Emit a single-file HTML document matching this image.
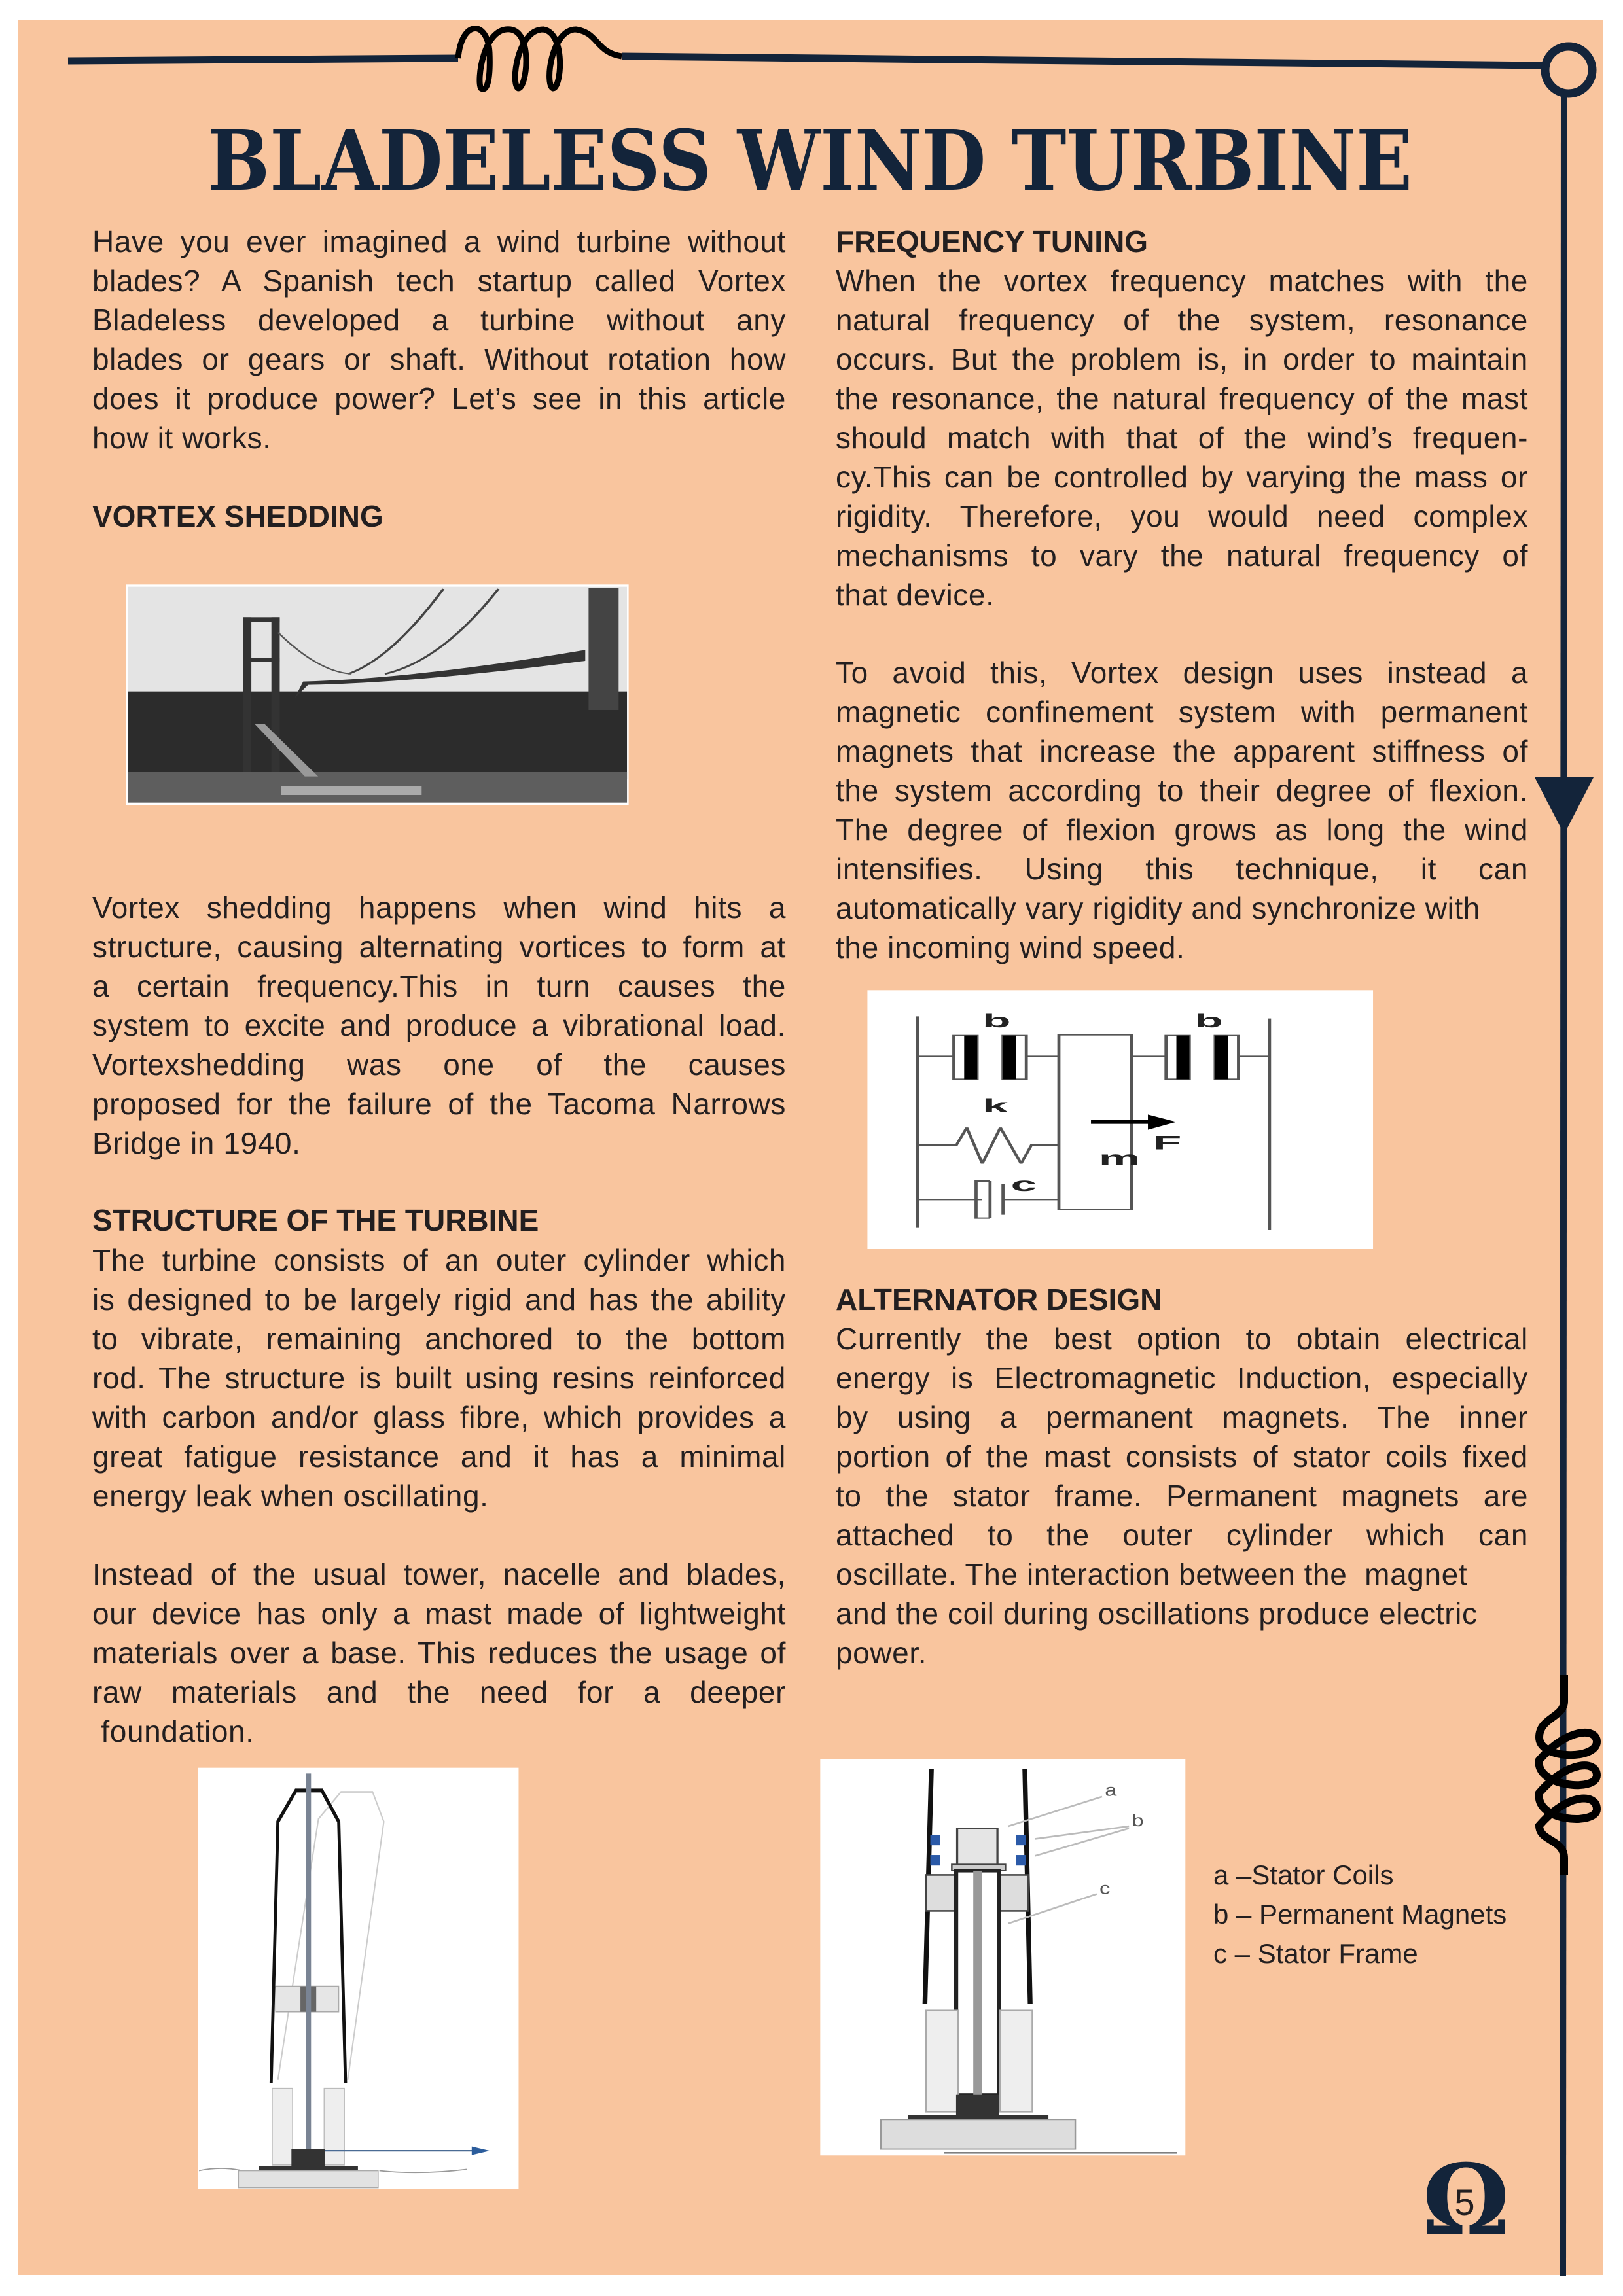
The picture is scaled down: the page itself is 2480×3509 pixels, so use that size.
<!DOCTYPE html>
<html><head><meta charset="utf-8">
<style>
html,body{margin:0;padding:0;background:#fff;}
#page{position:relative;width:2480px;height:3509px;overflow:hidden;background:#fff;}
#sheet{position:absolute;left:28px;top:30px;width:2422px;height:3447px;background:#f9c59e;}
.p{position:absolute;font-family:"Liberation Sans",sans-serif;font-size:46px;letter-spacing:0.6px;color:#231f20;line-height:60px;}
.p div{text-align:justify;text-align-last:justify;white-space:nowrap;}
.p div.l{text-align-last:left;}
.h{font-weight:bold;letter-spacing:0;}
.L{left:141px;width:1060px;}
.R{left:1277px;width:1058px;}
.leg{position:absolute;left:1854px;font-family:"Liberation Sans",sans-serif;font-size:42px;color:#231f20;line-height:60px;}
</style></head>
<body>
<div id="page">
<div id="sheet"></div>

<svg width="2480" height="3509" style="position:absolute;left:0;top:0">
  <g>
    <path d="M104 93 L700 89" stroke="#13243a" stroke-width="11" fill="none"/>
    <path d="M950 86 L2360 100" stroke="#13243a" stroke-width="11" fill="none"/>
    <path d="M700 89 C705 30 745 30 748 80 C750 130 742 140 735 135 C728 125 738 40 780 45 C815 50 805 135 792 135 C780 130 790 45 830 45 C865 50 858 135 845 135 C832 130 842 45 880 45 C915 50 910 80 950 86" stroke="#000" stroke-width="9" fill="none"/>
    <circle cx="2397" cy="107" r="36" stroke="#13243a" stroke-width="13" fill="none"/>
  </g>
  <line x1="2390" y1="143" x2="2388" y2="3478" stroke="#13243a" stroke-width="10"/>
  <polygon points="2345,1188 2435,1188 2390,1275" fill="#13243a"/>
  <path d="M2390 2560 L2390 2600 C2390 2625 2352 2625 2352 2655 C2352 2690 2440 2690 2440 2662 C2440 2640 2395 2640 2352 2690 C2345 2730 2440 2740 2440 2713 C2440 2690 2395 2690 2352 2740 C2345 2785 2440 2790 2440 2765 C2440 2740 2395 2740 2352 2790 C2352 2815 2390 2810 2390 2840 L2390 2865" stroke="#000" stroke-width="12" fill="none"/>
  <text x="317" y="290" textLength="1841" lengthAdjust="spacingAndGlyphs" font-family="DejaVu Serif Condensed, DejaVu Serif, Liberation Serif, serif" font-weight="bold" font-size="127" fill="#13243a">BLADELESS WIND TURBINE</text>

  <svg x="180" y="880" width="800" height="360" viewBox="0 0 1568 1080" preserveAspectRatio="none">
    <rect x="25" y="40" width="1505" height="1010" fill="#fff"/>
    <rect x="30" y="50" width="1495" height="500" fill="#e4e4e4"/>
    <rect x="30" y="530" width="1495" height="400" fill="#2c2c2c"/>
    <rect x="30" y="900" width="1495" height="140" fill="#5e5e5e"/>
    <rect x="375" y="190" width="25" height="710" fill="#333"/><rect x="460" y="190" width="25" height="710" fill="#333"/>
    <rect x="375" y="190" width="110" height="20" fill="#333"/><rect x="375" y="375" width="110" height="20" fill="#333"/>
    <rect x="1410" y="55" width="90" height="560" fill="#444"/>
    <path d="M975 60 Q820 380 690 450" stroke="#444" stroke-width="8" fill="none"/>
    <path d="M1140 60 Q970 390 800 450" stroke="#444" stroke-width="8" fill="none"/>
    <path d="M480 260 Q600 440 700 450" stroke="#555" stroke-width="6" fill="none"/>
    <path d="M530 560 L555 485 Q900 470 1400 340 L1400 390 Q900 490 570 500 Z" fill="#333"/>
    <path d="M410 680 L560 920 L600 920 L440 680 Z" fill="#999"/>
    <rect x="490" y="965" width="420" height="40" fill="#aaa"/>
  </svg>

  <svg x="1240" y="1450" width="1240" height="500" viewBox="0 0 1568 1500" preserveAspectRatio="none">
    <rect x="108" y="190" width="977" height="1187" fill="#fff"/>
    <g stroke="#555" stroke-width="6" fill="none">
      <line x1="205" y1="310" x2="205" y2="1280"/><line x1="885" y1="320" x2="885" y2="1290"/>
      <rect x="478" y="395" width="140" height="800"/>
      <line x1="205" y1="493" x2="275" y2="493"/><line x1="415" y1="493" x2="478" y2="493"/>
      <line x1="618" y1="493" x2="685" y2="493"/><line x1="825" y1="493" x2="885" y2="493"/>
      <polyline points="205,900 280,900 300,820 330,985 365,820 405,985 425,900 478,900"/>
      <line x1="205" y1="1150" x2="330" y2="1150"/><line x1="370" y1="1150" x2="478" y2="1150"/>
      <polyline points="345,1065 318,1065 318,1235 345,1235"/><line x1="345" y1="1065" x2="345" y2="1235"/>
      <line x1="370" y1="1080" x2="370" y2="1220"/>
      <rect x="275" y="398" width="45" height="200"/><rect x="370" y="398" width="45" height="200"/>
      <rect x="685" y="398" width="45" height="200"/><rect x="780" y="398" width="45" height="200"/>
    </g>
    <g fill="#000">
      <rect x="295" y="398" width="25" height="200"/><rect x="370" y="398" width="25" height="200"/>
      <rect x="705" y="398" width="25" height="200"/><rect x="780" y="398" width="25" height="200"/>
      <rect x="540" y="785" width="120" height="18"/><polygon points="650,760 705,794 650,830"/>
    </g>
    <g font-family="Liberation Sans, sans-serif" font-weight="bold" font-size="90" fill="#222">
      <text x="330" y="360">b</text><text x="740" y="360">b</text><text x="330" y="750">k</text>
      <text x="660" y="920">F</text><text x="555" y="990">m</text><text x="385" y="1110">c</text>
    </g>
  </svg>

  <svg x="280" y="2680" width="540" height="680" viewBox="0 0 1568 1568" preserveAspectRatio="none">
    <rect x="65" y="50" width="1423" height="1485" fill="#fff"/>
    <path d="M420 1150 L600 230 L700 135 L840 135 L890 240 L730 1150" stroke="#ccc" stroke-width="6" fill="none"/>
    <path d="M390 1160 L420 240 L500 130 L615 130 L690 240 L720 1160" stroke="#111" stroke-width="14" fill="none"/>
    <rect x="410" y="820" width="280" height="90" fill="#e6e6e6" stroke="#aaa" stroke-width="4"/>
    <rect x="520" y="820" width="70" height="90" fill="#666"/>
    <rect x="545" y="70" width="22" height="1330" fill="#7a8494"/>
    <rect x="395" y="1180" width="90" height="270" fill="#eee" stroke="#bbb" stroke-width="4"/>
    <rect x="625" y="1180" width="90" height="270" fill="#eee" stroke="#bbb" stroke-width="4"/>
    <rect x="480" y="1395" width="150" height="60" fill="#333"/>
    <rect x="335" y="1455" width="440" height="16" fill="#333"/>
    <rect x="245" y="1470" width="620" height="60" fill="#e2e2e2" stroke="#aaa" stroke-width="4"/>
    <path d="M70 1470 Q160 1455 250 1468 M870 1470 Q1050 1485 1260 1465" stroke="#999" stroke-width="4" fill="none"/>
    <line x1="630" y1="1400" x2="1300" y2="1400" stroke="#4a6b94" stroke-width="5"/>
    <polygon points="1280,1385 1360,1400 1280,1415" fill="#2c5d9c"/>
  </svg>

  <svg x="1200" y="2500" width="1280" height="1009" viewBox="0 0 1560 1560" preserveAspectRatio="none">
    <rect x="65" y="292" width="680" height="936" fill="#fff"/>
    <line x1="272" y1="315" x2="260" y2="870" stroke="#111" stroke-width="9"/>
    <line x1="446" y1="315" x2="456" y2="870" stroke="#111" stroke-width="9"/>
    <rect x="262" y="565" width="190" height="85" fill="#ddd" stroke="#444" stroke-width="4"/>
    <rect x="320" y="455" width="75" height="100" fill="#e5e5e5" stroke="#444" stroke-width="4"/>
    <rect x="310" y="540" width="100" height="15" fill="#ccc" stroke="#444" stroke-width="3"/>
    <rect x="270" y="470" width="18" height="25" fill="#2b5aa8"/><rect x="270" y="518" width="18" height="25" fill="#2b5aa8"/>
    <rect x="430" y="470" width="18" height="25" fill="#2b5aa8"/><rect x="430" y="518" width="18" height="25" fill="#2b5aa8"/>
    <rect x="318" y="555" width="80" height="530" fill="#fff" stroke="#222" stroke-width="8"/>
    <rect x="350" y="555" width="16" height="590" fill="#999"/>
    <rect x="262" y="885" width="60" height="240" fill="#eee" stroke="#aaa" stroke-width="3"/>
    <rect x="400" y="885" width="60" height="240" fill="#eee" stroke="#aaa" stroke-width="3"/>
    <rect x="318" y="1085" width="80" height="50" fill="#333"/>
    <rect x="228" y="1133" width="262" height="12" fill="#333"/>
    <rect x="178" y="1143" width="362" height="70" fill="#ddd" stroke="#999" stroke-width="3"/>
    <line x1="295" y1="1222" x2="730" y2="1222" stroke="#333" stroke-width="3"/>
    <g stroke="#bbb" stroke-width="4"><line x1="415" y1="450" x2="590" y2="380"/><line x1="465" y1="480" x2="640" y2="450"/><line x1="465" y1="520" x2="640" y2="455"/><line x1="415" y1="680" x2="580" y2="610"/></g>
    <g font-family="Liberation Sans, sans-serif" font-size="40" fill="#555"><text x="595" y="378">a</text><text x="645" y="450">b</text><text x="585" y="610">c</text></g>
  </svg>

  <g>
    <text x="2240" y="3415" text-anchor="middle" font-family="DejaVu Serif, serif" font-weight="bold" font-size="150" fill="#13243a">Ω</text>
    <text x="2238" y="3385" text-anchor="middle" font-family="Liberation Sans, sans-serif" font-size="56" fill="#231f20">5</text>
  </g>
</svg>

<div class="p L" style="top:339px">
<div>Have you ever imagined a wind turbine without</div>
<div>blades? A Spanish tech startup called Vortex</div>
<div>Bladeless developed a turbine without any</div>
<div>blades or gears or shaft. Without rotation how</div>
<div>does it produce power? Let’s see in this article</div>
<div class="l">how it works.</div>
</div>
<div class="p L h" style="top:759px"><div class="l">VORTEX SHEDDING</div></div>
<div class="p L" style="top:1357px">
<div>Vortex shedding happens when wind hits a</div>
<div>structure, causing alternating vortices to form at</div>
<div>a certain frequency.This in turn causes the</div>
<div>system to excite and produce a vibrational load.</div>
<div>Vortexshedding was one of the causes</div>
<div>proposed for the failure of the Tacoma Narrows</div>
<div class="l">Bridge in 1940.</div>
</div>
<div class="p L h" style="top:1835px"><div class="l">STRUCTURE OF THE TURBINE</div></div>
<div class="p L" style="top:1896px">
<div>The turbine consists of an outer cylinder which</div>
<div>is designed to be largely rigid and has the ability</div>
<div>to vibrate, remaining anchored to the bottom</div>
<div>rod. The structure is built using resins reinforced</div>
<div>with carbon and/or glass fibre, which provides a</div>
<div>great fatigue resistance and it has a minimal</div>
<div class="l">energy leak when oscillating.</div>
</div>
<div class="p L" style="top:2376px">
<div>Instead of the usual tower, nacelle and blades,</div>
<div>our device has only a mast made of lightweight</div>
<div>materials over a base. This reduces the usage of</div>
<div>raw materials and the need for a deeper</div>
<div class="l">&nbsp;foundation.</div>
</div>

<div class="p R h" style="top:339px"><div class="l">FREQUENCY TUNING</div></div>
<div class="p R" style="top:399px">
<div>When the vortex frequency matches with the</div>
<div>natural frequency of the system, resonance</div>
<div>occurs. But the problem is, in order to maintain</div>
<div>the resonance, the natural frequency of the mast</div>
<div>should match with that of the wind’s frequen-</div>
<div>cy.This can be controlled by varying the mass or</div>
<div>rigidity. Therefore, you would need complex</div>
<div>mechanisms to vary the natural frequency of</div>
<div class="l">that device.</div>
</div>
<div class="p R" style="top:998px">
<div>To avoid this, Vortex design uses instead a</div>
<div>magnetic confinement system with permanent</div>
<div>magnets that increase the apparent stiffness of</div>
<div>the system according to their degree of flexion.</div>
<div>The degree of flexion grows as long the wind</div>
<div>intensifies. Using this technique, it can</div>
<div class="l">automatically vary rigidity and synchronize with</div>
<div class="l">the incoming wind speed.</div>
</div>
<div class="p R h" style="top:1956px"><div class="l">ALTERNATOR DESIGN</div></div>
<div class="p R" style="top:2016px">
<div>Currently the best option to obtain electrical</div>
<div>energy is Electromagnetic Induction, especially</div>
<div>by using a permanent magnets. The inner</div>
<div>portion of the mast consists of stator coils fixed</div>
<div>to the stator frame. Permanent magnets are</div>
<div>attached to the outer cylinder which can</div>
<div class="l">oscillate. The interaction between the &nbsp;magnet</div>
<div class="l">and the coil during oscillations produce electric</div>
<div class="l">power.</div>
</div>

<div class="leg" style="top:2836px">
<div>a –Stator Coils</div>
<div>b – Permanent Magnets</div>
<div>c – Stator Frame</div>
</div>
</div>
</body></html>
